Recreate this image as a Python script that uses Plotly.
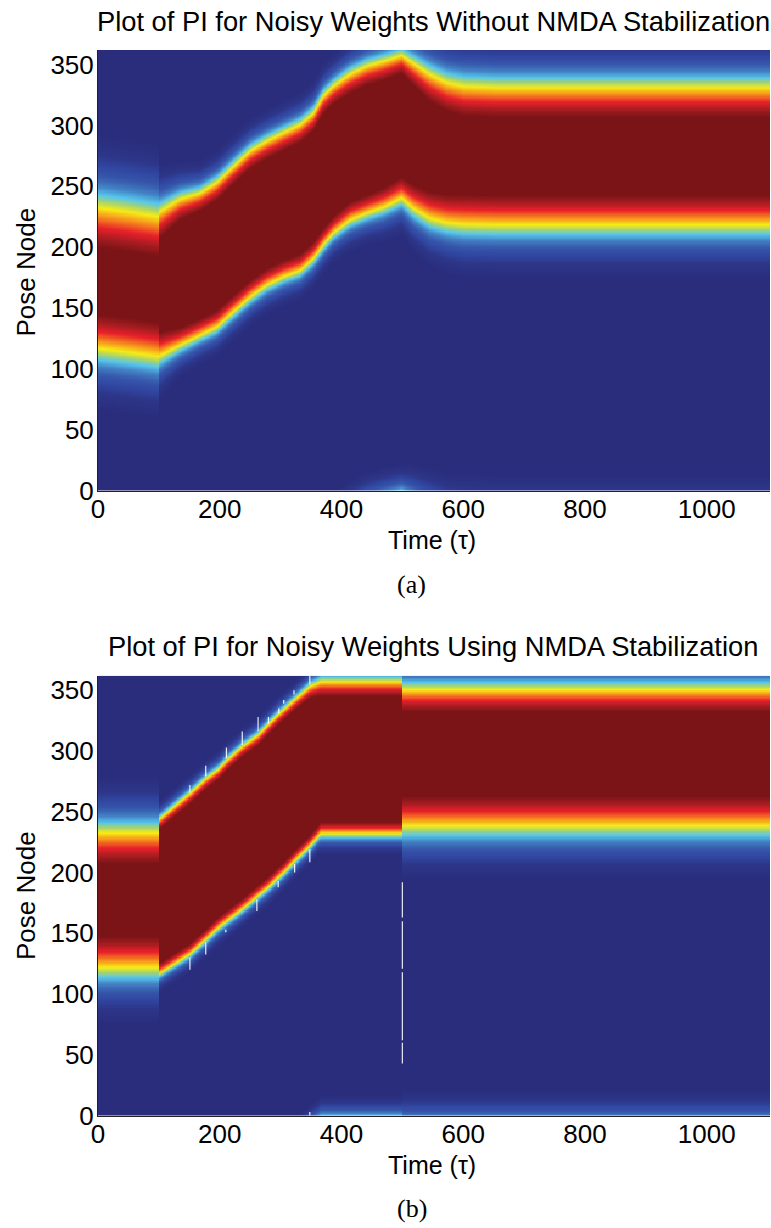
import numpy as np
import plotly.graph_objects as go

# ---------------- data ----------------
X_TICKS = [0, 200, 400, 600, 800, 1000]
Y_TICKS = [0, 50, 100, 150, 200, 250, 300, 350]
T_MAX = 1104          # time axis extent
N_MAX = 362           # pose-node axis extent
RING = 362            # pose nodes wrap around (ring attractor)

# Panel (a): band edges (yellow contour) and edge softness vs time
A_T   = [0, 50, 99, 101, 135, 168, 195, 222, 250, 277, 305, 332, 354, 370, 386, 414, 441, 469, 499, 518, 545, 573, 601, 655, 1104]
A_LO  = [117, 114, 110.6, 111, 119.7, 128, 134.7, 147, 159.4, 169, 176, 181, 191, 202, 211.6, 222.5, 228, 233, 240.5, 232, 224, 220.3, 219, 218.5, 218.5]
A_HI  = [232.4, 229, 225, 229, 239.5, 244.5, 253, 266, 279, 287, 294, 300.6, 310, 324, 332, 342, 348.6, 352.7, 357.5, 351, 341.8, 335, 332, 331, 331]
A_SLO = [1.15, 1.15, 1.15, 0.8, 0.6, 0.55, 0.55, 0.55, 0.55, 0.55, 0.55, 0.55, 0.55, 0.55, 0.55, 0.6, 0.6, 0.65, 0.7, 0.8, 0.9, 0.95, 1.0, 1.0, 1.0]
A_SHI = [1.35, 1.35, 1.35, 0.9, 0.7, 0.6, 0.6, 0.6, 0.6, 0.6, 0.6, 0.6, 0.6, 0.6, 0.6, 0.65, 0.65, 0.65, 0.6, 0.75, 0.9, 0.95, 1.0, 1.0, 1.0]

# Panel (b)
B_T   = [0, 99, 101, 151, 177, 198, 211, 237, 263, 280, 296, 305, 323, 348, 362, 366, 499, 501, 1104]
B_LO  = [122, 122, 117, 133, 145, 155, 160, 170, 181, 188, 196, 200, 209.7, 222, 230, 232, 232, 238.5, 238.5]
B_HI  = [232.6, 232.6, 244, 265, 277, 285, 292, 303.6, 313, 322, 330, 334, 342, 353, 356, 357, 357, 350.5, 350.5]
B_SLO = [1.05, 1.05, 0.35, 0.35, 0.35, 0.35, 0.35, 0.35, 0.35, 0.35, 0.35, 0.35, 0.35, 0.35, 0.35, 0.4, 0.4, 1.0, 1.0]
B_SHI = [1.05, 1.05, 0.35, 0.35, 0.35, 0.35, 0.35, 0.35, 0.35, 0.35, 0.35, 0.35, 0.35, 0.4, 0.45, 0.5, 0.5, 0.75, 0.75]

# White drop-out pixels in panel (b): (time, node from, node to)
B_GAPS = [
    (151, 266, 272), (151, 120, 130),
    (177, 279, 288), (177, 132.6, 142.6),
    (211, 294, 303), (210, 151, 153),
    (237, 305, 316),
    (263, 316, 328), (261, 168.5, 178),
    (280, 322.5, 328),
    (297, 331, 335), (296, 188, 193),
    (305, 339, 342),
    (322, 346.5, 350), (323, 200, 207),
    (348, 355, 362), (348, 208.5, 219), (348, 0, 3),
    (500, 43, 60), (500, 62, 118), (500, 121, 160), (500, 163, 192),
]

# Activity level vs. distance inside the band edge (edge = yellow)
PROFILE_D = [-80, -44, -32, -20, -8, 0, 5, 12, 24, 80]
PROFILE_V = [0.0, 0.0, 0.05, 0.15, 0.375, 0.625, 0.75, 0.875, 1.0, 1.0]

JET_PRINT = [
    [0.0, '#2a2d7c'], [0.05, '#2d3689'], [0.1, '#3045a0'], [0.2, '#3a62b2'],
    [0.28, '#4282c4'], [0.375, '#56c5ec'], [0.5, '#a6d46e'], [0.625, '#f6eb16'],
    [0.75, '#f7941d'], [0.875, '#e8202a'], [0.94, '#a51c20'], [1.0, '#7b1416'],
]


def field(T, LO, HI, SLO, SHI):
    t = np.arange(1, T_MAX, 2.0)
    n = np.arange(0.5, N_MAX, 1.0)
    lo = np.interp(t, T, LO)
    hi = np.interp(t, T, HI)
    slo = np.interp(t, T, SLO)
    shi = np.interp(t, T, SHI)
    c = (lo + hi) / 2.0
    h = (hi - lo) / 2.0
    delta = ((n[:, None] - c[None, :] + RING / 2.0) % RING) - RING / 2.0
    d_in = h[None, :] - np.abs(delta)
    s = np.where(delta < 0, slo[None, :], shi[None, :])
    z = np.interp(d_in / s, PROFILE_D, PROFILE_V)
    return t, n, np.round(z, 3)


ta, na, za = field(A_T, A_LO, A_HI, A_SLO, A_SHI)
tb, nb, zb = field(B_T, B_LO, B_HI, B_SLO, B_SHI)

gx, gy = [], []
for tg, n0, n1 in B_GAPS:
    gx += [tg, tg, None]
    gy += [n0, n1, None]

fig = go.Figure()
fig.add_trace(go.Heatmap(x=ta, y=na, z=za, colorscale=JET_PRINT, zmin=0, zmax=1,
                         showscale=False, zsmooth=False, xaxis='x', yaxis='y'))
fig.add_trace(go.Heatmap(x=tb, y=nb, z=zb, colorscale=JET_PRINT, zmin=0, zmax=1,
                         showscale=False, zsmooth=False, xaxis='x2', yaxis='y2'))
fig.add_trace(go.Scatter(x=gx, y=gy, mode='lines', line=dict(color='rgba(255,255,255,0.9)', width=1.2),
                         xaxis='x2', yaxis='y2', hoverinfo='skip', showlegend=False))

W, H = 771, 1228
FONT = 'Liberation Sans, Arial, Helvetica, sans-serif'
XD = [98 / W, 770 / W]
YA = [1 - 490.5 / H, 1 - 50 / H]
YB = [1 - 1115.7 / H, 1 - 675.7 / H]

ax_common = dict(showgrid=False, zeroline=False, ticks='', showline=True, automargin=False,
                 linecolor='#222', linewidth=1, tickfont=dict(size=26, family=FONT, color='black'))

fig.update_layout(
    width=W, height=H, margin=dict(l=0, r=0, t=0, b=0),
    paper_bgcolor='white', plot_bgcolor='white', showlegend=False,
    font=dict(family=FONT, color='black'),
    xaxis=dict(domain=XD, range=[0, T_MAX], tickvals=X_TICKS, anchor='y', ticklabelstandoff=-5, **ax_common),
    yaxis=dict(domain=YA, range=[0, N_MAX], tickvals=Y_TICKS, anchor='x', ticklabelstandoff=-2, **ax_common),
    xaxis2=dict(domain=XD, range=[0, T_MAX], tickvals=X_TICKS, anchor='y2', ticklabelstandoff=-5, **ax_common),
    yaxis2=dict(domain=YB, range=[0, N_MAX], tickvals=Y_TICKS, anchor='x2', ticklabelstandoff=-2, **ax_common),
)

cx = 433 / W
ann = [
    dict(text='Plot of PI for Noisy Weights Without NMDA Stabilization', x=cx, y=1 - 21 / H, size=27.3, fam=FONT),
    dict(text='Time (τ)', x=432 / W, y=1 - 540 / H, size=25, fam=FONT),
    dict(text='(a)', x=411.5 / W, y=1 - 584 / H, size=26, fam='Liberation Serif, Times New Roman, serif'),
    dict(text='Plot of PI for Noisy Weights Using NMDA Stabilization', x=cx, y=1 - 646 / H, size=27.3, fam=FONT),
    dict(text='Time (τ)', x=432 / W, y=1 - 1165 / H, size=25, fam=FONT),
    dict(text='(b)', x=411.5 / W, y=1 - 1208 / H, size=26, fam='Liberation Serif, Times New Roman, serif'),
]
for a in ann:
    fig.add_annotation(text=a['text'], x=a['x'], y=a['y'], xref='paper', yref='paper',
                       xanchor='center', yanchor='middle', showarrow=False,
                       font=dict(size=a['size'], family=a['fam'], color='black'))
for yc in (272.5, 896):
    fig.add_annotation(text='Pose Node', x=26 / W, y=1 - yc / H, xref='paper', yref='paper',
                       xanchor='center', yanchor='middle', showarrow=False, textangle=-90,
                       font=dict(size=26, family=FONT, color='black'))

fig.write_html('out.html')
